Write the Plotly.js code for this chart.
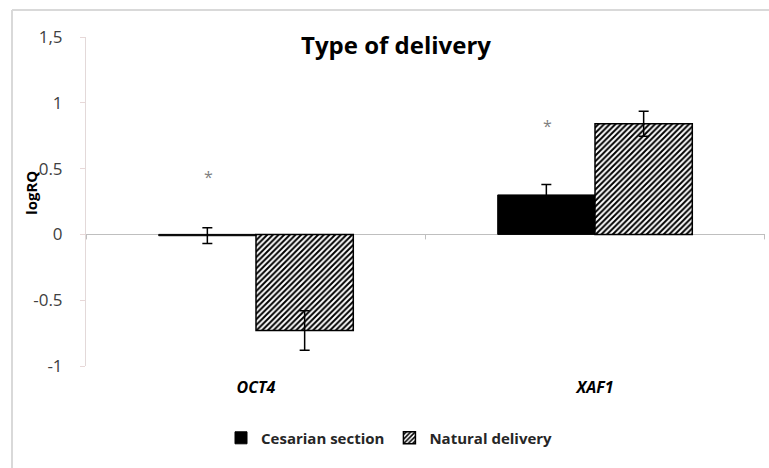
<!DOCTYPE html>
<html>
<head>
<meta charset="utf-8">
<script src="https://cdn.plot.ly/plotly-3.0.1.min.js"></script>
<style>html,body{margin:0;padding:0;background:#fff;}#chart{width:769px;height:468px;}</style>
</head>
<body>
<div id="chart"></div>
<script>
// Data
const genes = ["OCT4", "XAF1"];
const geneLabels = ["<b><i>OCT4</i></b>", "<b><i>XAF1</i></b>"];
const cesarianValues = [-0.01, 0.30];
const cesarianErrors = [0.06, 0.08];
const naturalValues = [-0.73, 0.84];
const naturalErrors = [0.15, 0.095];
const starValues = [0.44, 0.82];   // significance marks above Cesarian bars
const yTickVals = [-1, -0.5, 0, 0.5, 1, 1.5];
const yTickText = ["-1", "-0.5", "0", "0.5", "1", "1,5"];

const font = "'Open Sans', sans-serif";

const traces = [
  {
    type: "bar", name: "<b>Cesarian section</b>", x: genes, y: cesarianValues,
    marker: {color: "#000000", line: {color: "#000000", width: 1}},
    error_y: {type: "data", array: cesarianErrors, visible: true, color: "#000000", thickness: 1.5, width: 5}
  },
  {
    type: "bar", name: "<b>Natural delivery</b>", x: genes, y: naturalValues,
    marker: {color: "#ffffff", line: {color: "#000000", width: 1.5},
      pattern: {shape: "/", fgcolor: "#000000", bgcolor: "#ffffff", size: 4, solidity: 0.5}},
    error_y: {type: "data", array: naturalErrors, visible: true, color: "#000000", thickness: 1.5, width: 5}
  }
];

const annotations = genes.map((g, i) => ({
  x: g, y: starValues[i], xref: "x", yref: "y", text: "*", showarrow: false,
  xshift: -48, font: {family: font, size: 16, color: "#7f7f7f"}, yanchor: "middle"
}));
// y-axis title placed next to the tick labels
annotations.push({
  text: "<b>logRQ</b>", xref: "paper", yref: "paper", x: -0.081, y: 0.526,
  xanchor: "center", yanchor: "middle", textangle: -90, showarrow: false,
  font: {family: font, size: 15, color: "#000000"}
});

const shapes = [];
for (let i = 0; i <= genes.length; i++) {
  shapes.push({type: "line", xref: "x", yref: "y", ysizemode: "pixel", yanchor: 0,
    x0: i - 0.5, x1: i - 0.5, y0: 0, y1: -5, line: {color: "#bfbfbf", width: 1}});
}
// outer frame (left and top edges)
shapes.push({type: "line", xref: "paper", yref: "paper", x0: -0.109, x1: -0.109, y0: -0.4, y1: 1.082, line: {color: "#d9d9d9", width: 2}});
shapes.push({type: "line", xref: "paper", yref: "paper", x0: -0.109, x1: 1.01, y0: 1.082, y1: 1.082, line: {color: "#d9d9d9", width: 2}});

const layout = {
  width: 769, height: 468,
  margin: {l: 86, r: 4, t: 37, b: 102},
  paper_bgcolor: "#ffffff", plot_bgcolor: "#ffffff",
  barmode: "group", bargap: 0.426, bargroupgap: 0,
  title: {text: "<b>Type of delivery</b>", x: 0.515, xanchor: "center", y: 1 - 46/468, yanchor: "middle",
    font: {family: font, size: 24, color: "#000000"}},
  xaxis: {
    tickvals: genes, ticktext: geneLabels, showline: false, showgrid: false, zeroline: false,
    ticks: "", tickfont: {family: font, size: 16, color: "#000000"}, ticklabelstandoff: 10, fixedrange: true
  },
  yaxis: {
    range: [-1, 1.5], tickvals: yTickVals, ticktext: yTickText, showgrid: false,
    showline: true, linecolor: "#e3d9d9", linewidth: 1,
    ticks: "outside", ticklen: 5, tickcolor: "#e8d8d8",
    zeroline: true, zerolinecolor: "#bfbfbf", zerolinewidth: 1.5,
    tickfont: {family: font, size: 17, color: "#404040"}, ticklabelstandoff: 14
  },
  legend: {orientation: "h", x: 0.447, xanchor: "center", y: -0.219, yanchor: "middle",
    font: {family: font, size: 15, color: "#262626"}, itemwidth: 30, traceorder: "normal"},
  annotations: annotations,
  shapes: shapes,
  showlegend: true
};

Plotly.newPlot("chart", traces, layout, {displayModeBar: false, staticPlot: true});
</script>
</body>
</html>
